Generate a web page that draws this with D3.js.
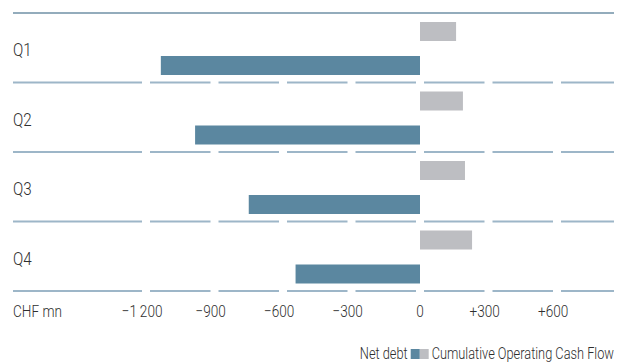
<!DOCTYPE html>
<html>
<head>
<meta charset="utf-8">
<script src="https://cdn.jsdelivr.net/npm/d3@7"></script>
<style>
  html, body { margin: 0; padding: 0; background: #fff; }
  svg { display: block; }
  text { font-family: "Roboto", "Liberation Sans", sans-serif; font-weight: 300; fill: #2e2e2e; }
</style>
</head>
<body>
<svg id="chart" width="618" height="362"></svg>
<script>
// Quarterly net debt vs. cumulative operating cash flow (CHF mn)
const quarters = ["Q1", "Q2", "Q3", "Q4"];
const netDebt = [-1135, -985, -750, -545];
const cumulativeOCF = [158, 188, 197, 228];
const tickValues = [-1200, -900, -600, -300, 0, 300, 600];
const tickLabels = ["\u22121\u2009200", "\u2212900", "\u2212600", "\u2212300", "0", "+300", "+600"];
const unitLabel = "CHF mn";
const legendLabels = ["Net debt", "Cumulative Operating Cash Flow"];

const colors = { debt: "#5b87a0", ocf: "#bdbec2", rule: "#9db6c8", topRule: "#6f90a6" };

const svg = d3.select("#chart");
const plotLeft = 13, plotRight = 614, plotTop = 13, rowH = 69.5;
const squeeze = 0.8; // condensed lettering

// Text drawn in a horizontally condensed group; returns the group, the <text> node and its drawn width
function label(parent, px, py, str, size, anchor) {
  const g = parent.append("g").attr("transform", `translate(${px},${py}) scale(${squeeze},1)`);
  const t = g.append("text").attr("font-size", size).attr("text-anchor", anchor || "start").text(str);
  return { g, t, width: t.node().getComputedTextLength() * squeeze };
}

// x scale: zero sits at 420, 300 units per 68.5 px
const x = d3.scaleLinear().domain([-1200, 0]).range([146, 420]);
const y = d3.scaleBand().domain(quarters).range([plotTop, plotTop + rowH * quarters.length]).padding(0);

// Top rule
svg.append("line")
  .attr("x1", plotLeft).attr("x2", plotRight)
  .attr("y1", plotTop).attr("y2", plotTop)
  .attr("stroke", colors.topRule).attr("stroke-width", 1.5);

// Segmented rules under each row, broken at every tick position
const gap = 4;
const breaks = tickValues.map(v => x(v));
const edges = [plotLeft, ...breaks, plotRight];
quarters.forEach(q => {
  const yy = y(q) + y.bandwidth();
  for (let i = 0; i < edges.length - 1; i++) {
    const a = i === 0 ? edges[i] : edges[i] + gap;
    const b = i === edges.length - 2 ? edges[i + 1] : edges[i + 1] - gap;
    svg.append("line")
      .attr("x1", a).attr("x2", b)
      .attr("y1", yy).attr("y2", yy)
      .attr("stroke", colors.rule).attr("stroke-width", 2);
  }
});

const barH = 19;

// Cumulative operating cash flow bars (upper)
svg.append("g").selectAll("rect")
  .data(quarters)
  .join("rect")
  .attr("x", (d, i) => x(Math.min(0, cumulativeOCF[i])))
  .attr("width", (d, i) => Math.abs(x(cumulativeOCF[i]) - x(0)))
  .attr("y", d => y(d) + 9)
  .attr("height", barH)
  .attr("fill", colors.ocf);

// Net debt bars (lower)
svg.append("g").selectAll("rect")
  .data(quarters)
  .join("rect")
  .attr("x", (d, i) => x(Math.min(0, netDebt[i])))
  .attr("width", (d, i) => Math.abs(x(netDebt[i]) - x(0)))
  .attr("y", d => y(d) + 43)
  .attr("height", barH)
  .attr("fill", colors.debt);

// Row labels
quarters.forEach(q => label(svg, plotLeft, y(q) + 43, q, 19));

// Axis labels: the digits are centred on the tick, signs hang to the left
const axisY = 317;
const tickSize = 17;
const axisG = svg.append("g");
tickValues.forEach((v, i) => {
  const str = tickLabels[i];
  const sign = /^[\u2212+]/.test(str) ? str[0] : "";
  const digits = str.slice(sign.length);
  const lab = label(axisG, 0, axisY, str, tickSize);
  const probe = lab.g.append("text").attr("font-size", tickSize).text(digits);
  const digitW = probe.node().getComputedTextLength() * squeeze;
  probe.remove();
  const signW = lab.width - digitW;
  lab.g.attr("transform", `translate(${x(v) - digitW / 2 - signW},${axisY}) scale(${squeeze},1)`);
});

label(svg, plotLeft, axisY, unitLabel, tickSize);

// Legend, right-aligned under the chart
const legY = 359;
const lg = svg.append("g");
const l2 = label(lg, plotRight, legY, legendLabels[1], 16, "end");
const swW = 9, swH = 10;
const grayX = plotRight - l2.width - 3 - swW;
const blueX = grayX - swW;
lg.append("rect").attr("x", grayX).attr("y", legY - swH).attr("width", swW).attr("height", swH).attr("fill", colors.ocf);
lg.append("rect").attr("x", blueX).attr("y", legY - swH).attr("width", swW).attr("height", swH).attr("fill", colors.debt);
label(lg, blueX - 3, legY, legendLabels[0], 16, "end");
</script>
</body>
</html>
